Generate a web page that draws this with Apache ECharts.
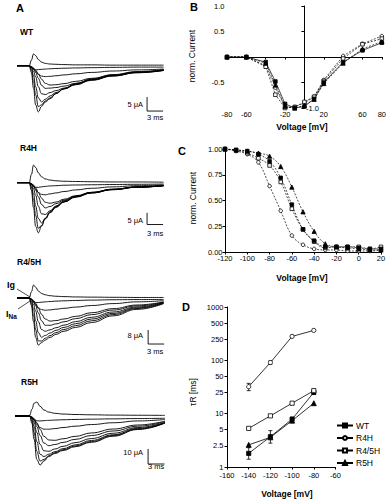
<!DOCTYPE html>
<html><head><meta charset="utf-8">
<script src="https://cdn.jsdelivr.net/npm/echarts@6/dist/echarts.min.js"></script>
<style>html,body{margin:0;padding:0;background:#fff}#c{width:389px;height:499px}</style>
</head><body><div id="c"></div>
<script>
// ---------- DATA ----------
const tMs = [0, 2.3, 2.7, 3.1, 3.5, 4.0, 4.6, 5.3, 6.2, 7.3, 8.8, 11, 14, 18, 22.5, 27.5];
const wtTraces = [
  [0,0, 2.0, 4.2, 3.6, 2.2, 1.3, 0.8, 0.6, 0.5, 0.4, 0.3, 0.3, 0.2, 0.2, 0.2],
  [0,0,-0.5,-1.2,-1.5,-1.4,-1.3,-1.2,-1.1,-1.0,-0.9,-0.8,-0.7,-0.6,-0.5,-0.5],
  [0,0,-0.5,-1.2,-2.0,-3.0,-3.7,-3.9,-3.8,-3.6,-3.3,-2.9,-2.4,-1.9,-1.5,-1.2],
  [0,0,-0.3,-0.8,-1.6,-3.0,-4.8,-6.3,-6.9,-6.8,-6.4,-5.6,-4.5,-3.3,-2.3,-1.6],
  [0,0,-0.4,-1.2,-2.4,-4.5,-7.0,-8.1,-8.0,-7.8,-7.3,-6.3,-5.0,-3.6,-2.5,-1.7],
  [0,0,-0.6,-2.0,-4.0,-7.5,-10.0,-10.3,-9.6,-8.9,-8.0,-6.7,-5.2,-3.7,-2.5,-1.7],
  [0,0,-1.0,-3.5,-7.5,-11.5,-12.9,-12.0,-10.8,-9.6,-8.3,-6.8,-5.1,-3.6,-2.4,-1.6],
  [0,0,-1.5,-5.5,-10.5,-14.6,-14.0,-12.6,-11.5,-9.9,-8.3,-6.6,-4.9,-3.4,-2.3,-1.5],
  [0,0,-2.5,-8.0,-14.0,-16.5,-14.5,-13.0,-11.8,-10.0,-8.2,-6.4,-4.7,-3.2,-2.1,-1.4]
];
const r4hTraces = [
  [0,0, 3.5, 7.5, 6.5, 4.2, 2.5, 1.6, 1.1, 0.8, 0.6, 0.5, 0.4, 0.3, 0.3, 0.2],
  [0,0,-0.6,-1.5,-2.0,-2.0,-1.8,-1.6,-1.4,-1.3,-1.1,-1.0,-0.9,-0.8,-0.7,-0.6],
  [0,0,-0.6,-1.6,-2.8,-4.2,-5.0,-5.2,-4.8,-4.4,-3.8,-3.1,-2.4,-1.8,-1.3,-1.0],
  [0,0,-0.4,-1.0,-2.2,-4.2,-6.6,-8.4,-8.8,-8.3,-7.1,-5.6,-4.1,-2.8,-1.9,-1.3],
  [0,0,-0.5,-1.6,-3.2,-6.0,-9.3,-10.8,-10.2,-9.0,-7.5,-5.8,-4.2,-2.9,-1.9,-1.3],
  [0,0,-0.8,-2.7,-5.4,-10.0,-13.3,-13.6,-12.0,-10.2,-8.2,-6.1,-4.4,-3.0,-2.0,-1.3],
  [0,0,-1.3,-4.7,-10.0,-15.3,-17.2,-15.4,-12.8,-10.6,-8.3,-6.2,-4.4,-3.0,-1.9,-1.3],
  [0,0,-2.0,-7.3,-14.0,-19.5,-18.3,-15.5,-12.8,-10.4,-8.1,-6.0,-4.3,-2.9,-1.9,-1.2],
  [0,0,-3.3,-10.7,-18.7,-21.4,-18.6,-15.2,-12.5,-10.0,-7.8,-5.8,-4.2,-2.8,-1.8,-1.2]
];
const r45hTraces = [
  [0,0, 3.5, 7.4, 6.2, 4.0, 2.6, 1.8, 1.3, 1.0, 0.8, 0.6, 0.5, 0.4, 0.3, 0.3],
  [0,0,-0.8,-2.0,-2.6,-2.6,-2.4,-2.2,-2.0,-1.8,-1.6,-1.4,-1.2,-1.0,-0.9,-0.8],
  [0,0,-0.8,-2.2,-3.8,-5.6,-6.6,-7.0,-6.8,-6.4,-5.9,-5.2,-4.3,-3.2,-2.2,-1.5],
  [0,0,-0.5,-1.4,-3.0,-5.8,-9.3,-12.0,-13.2,-12.9,-12.0,-10.5,-8.4,-6.1,-4.0,-2.2],
  [0,0,-0.7,-2.2,-4.5,-8.5,-13.0,-15.6,-15.6,-14.8,-13.6,-11.8,-9.5,-6.9,-4.5,-2.4],
  [0,0,-1.1,-3.7,-7.5,-13.5,-18.0,-19.0,-18.2,-17.0,-15.5,-13.5,-11.0,-8.0,-5.1,-2.6],
  [0,0,-1.8,-6.3,-13.0,-19.8,-22.4,-21.4,-20.0,-18.5,-16.8,-14.7,-12.0,-8.8,-5.6,-2.8],
  [0,0,-2.8,-9.8,-18.2,-24.5,-24.6,-23.0,-21.5,-19.8,-18.0,-15.8,-13.0,-9.5,-6.0,-3.0],
  [0,0,-4.2,-13.5,-22.5,-26.9,-25.5,-24.0,-22.5,-20.8,-19.0,-16.8,-14.0,-10.2,-6.5,-3.2]
];
const r5hTraces = [
  [0,0, 0.5, 4.5, 8.5, 9.3, 6.5, 4.0, 2.6, 1.8, 1.3, 1.0, 0.8, 0.6, 0.5, 0.4],
  [0,0, 0,-1.0,-2.4,-3.2,-3.3,-3.1,-2.9,-2.7,-2.5,-2.3,-2.1,-1.9,-1.7,-1.5],
  [0,0, 0,-1.0,-2.8,-5.5,-7.8,-8.8,-8.8,-8.4,-7.7,-6.8,-5.7,-4.5,-3.3,-2.3],
  [0,0, 0,-0.6,-1.8,-4.5,-9.0,-13.5,-16.0,-16.2,-15.2,-13.6,-11.3,-8.7,-6.0,-3.4],
  [0,0, 0,-0.9,-2.7,-7.0,-13.0,-18.0,-19.8,-19.0,-17.6,-15.6,-13.0,-10.0,-6.8,-3.8],
  [0,0, 0,-1.4,-4.3,-11.0,-19.0,-23.2,-23.5,-22.0,-20.2,-17.8,-15.0,-11.5,-7.7,-4.2],
  [0,0, 0,-2.2,-7.0,-17.0,-25.5,-27.0,-25.5,-23.8,-21.8,-19.3,-16.3,-12.5,-8.3,-4.5],
  [0,0, 0,-3.3,-11.0,-23.5,-30.0,-29.0,-26.5,-24.5,-22.5,-20.0,-17.0,-13.0,-8.7,-4.6],
  [0,0, 0,-4.8,-15.5,-29.0,-32.7,-30.0,-27.0,-25.0,-23.0,-20.5,-17.5,-13.5,-9.0,-4.7]
];
// scale bars: anchor time (ms), anchor current (µA), bar sizes
const barAmps = [5, 5, 8, 10];      // µA
const barMs = 3;                    // ms
const barAnchorT = [24.4, 24.4, 24.6, 24.4];
const barAnchorI = [-11.2, -12.9, -18.3, -22.0];

// Panel B: I-V
const ivVolt = [-80, -60, -40, -30, -20, -10, 0, 10, 20, 40, 60, 80];
const ivWT   = [0, 0, -0.10, -0.48, -0.92, -1.00, -0.97, -0.82, -0.50, -0.10, 0.13, 0.28];
const ivR4H  = [0, 0, -0.17, -0.60, -0.98, -0.98, -0.90, -0.78, -0.45, 0.02, 0.26, 0.41];
const ivR45H = [0, 0, -0.19, -0.74, -1.00, -0.98, -0.88, -0.78, -0.47, -0.03, 0.25, 0.36];
const ivR5H  = [0, 0, -0.12, -0.55, -0.97, -1.00, -0.95, -0.83, -0.52, -0.12, 0.16, 0.30];

// Panel C: steady-state inactivation
const inVolt  = [-120, -110, -100, -90, -80, -70, -60, -50, -40, -30, -20, -10, 0, 10, 20];
const inWT    = [1.00, 0.99, 0.98, 0.95, 0.88, 0.72, 0.46, 0.22, 0.11, 0.05, 0.05, 0.05, 0.04, 0.03, 0.03];
const inR4H   = [1.00, 0.98, 0.95, 0.87, 0.64, 0.40, 0.16, 0.07, 0.03, 0.02, 0.02, 0.01, 0.01, 0.01, 0.02];
const inR45H  = [1.00, 0.99, 0.96, 0.91, 0.84, 0.68, 0.42, 0.22, 0.10, 0.04, 0.05, 0.05, 0.05, 0.03, 0.05];
const inR5H   = [1.00, 0.99, 0.98, 0.96, 0.93, 0.83, 0.63, 0.39, 0.20, 0.08, 0.05, 0.04, 0.03, 0.02, 0.02];

// Panel D: recovery time constants
const tauVolt  = [-140, -120, -100, -80];
const tauWT    = [1.8, 3.7, 7.9, 25];
const tauR4H   = [32, 91, 281, 364];
const tauR45H  = [5.3, 9.1, 15.7, 27];
const tauR5H   = [2.6, 3.6, 7.4, 15.7];
const tauErrWT  = [[1.4, 2.3], [2.8, 4.8], [7.3, 8.6], [23, 27.5]];
const tauErrR4H = [[27, 37], [84, 98], [268, 296], [348, 382]];
const tauTicks = [1, 2.5, 5, 10, 25, 50, 100, 250, 500, 1000];

// ---------- CHART ----------
const FONT = '"Liberation Sans", Arial, sans-serif';
const chart = echarts.init(document.getElementById('c'), null, {renderer: 'svg'});

const traceGrids = [
  {left: 17, top: 48.9, width: 146.6, height: 67.2, ymin: -18, ymax: 6},
  {left: 17, top: 161.6, width: 146.6, height: 77.2, ymin: -24, ymax: 9},
  {left: 17, top: 280.5, width: 146.6, height: 70, ymin: -30, ymax: 10},
  {left: 15, top: 398, width: 150, height: 72, ymin: -36, ymax: 12}
];
const allTraces = [wtTraces, r4hTraces, r45hTraces, r5hTraces];

const grids = [], xAxes = [], yAxes = [], series = [];
traceGrids.forEach((g, i) => {
  grids.push({left: g.left, top: g.top, width: g.width, height: g.height});
  xAxes.push({type: 'value', gridIndex: i, min: 0, max: 27.5, show: false});
  yAxes.push({type: 'value', gridIndex: i, min: g.ymin, max: g.ymax, show: false});
  allTraces[i].forEach(tr => {
    series.push({type: 'line', xAxisIndex: i, yAxisIndex: i, silent: true,
      data: tMs.map((t, k) => [t, tr[k]]), smooth: 0.45, smoothMonotone: 'x',
      symbol: 'none', lineStyle: {color: '#000', width: 0.9}, z: 2});
  });
  const t0 = barAnchorT[i], i0 = barAnchorI[i];
  series.push({type: 'line', xAxisIndex: i, yAxisIndex: i, silent: true, symbol: 'none',
    data: [[t0, i0], [t0, i0 - barAmps[i]], [t0 + barMs, i0 - barAmps[i]]],
    lineStyle: {color: '#000', width: 0.9}});
});

const axisLine = {show: true, onZero: false, lineStyle: {color: '#000', width: 1}};
const axisTick = {show: true, length: 2.5, lineStyle: {color: '#000', width: 1}};
const axisLabel = {color: '#000', fontSize: 7.5, fontFamily: FONT, margin: 2.5};

// Grid 4: B
grids.push({left: 227, top: 6, width: 155, height: 102});
xAxes.push({type: 'value', gridIndex: 4, min: -80, max: 80, interval: 20,
  axisLine: {show: true, onZero: true, lineStyle: {color: '#000', width: 1}}, axisTick,
  axisLabel: Object.assign({}, axisLabel, {formatter: v => ([-40, 0, 40].includes(v) ? '' : String(v))}),
  splitLine: {show: false}});
yAxes.push({type: 'value', gridIndex: 4, min: -1, max: 1, interval: 0.5,
  axisLine: {show: true, onZero: true, lineStyle: {color: '#000', width: 1}},
  axisTick: {show: true, length: 3, lineStyle: {color: '#000', width: 1}},
  axisLabel: Object.assign({}, axisLabel, {formatter: v => (v === 0 || v === -1 ? '' : v.toFixed(1))}),
  splitLine: {show: false}});
// Grid 5: C
grids.push({left: 225, top: 149, width: 156, height: 103});
xAxes.push({type: 'value', gridIndex: 5, min: -120, max: 20, interval: 20, axisLine, axisTick,
  axisLabel, splitLine: {show: false}});
yAxes.push({type: 'value', gridIndex: 5, min: 0, max: 1, interval: 0.25, axisLine, axisTick,
  axisLabel: Object.assign({}, axisLabel, {formatter: v => v.toFixed(2)}), splitLine: {show: false}});
// Grid 6: D
grids.push({left: 227, top: 307, width: 108.5, height: 160});
xAxes.push({type: 'value', gridIndex: 6, min: -160, max: -60, interval: 20, axisLine, axisTick,
  axisLabel: Object.assign({}, axisLabel, {margin: 4.5}), splitLine: {show: false}});
yAxes.push({type: 'log', gridIndex: 6, min: 1, max: 1000, logBase: 10, axisLine,
  axisTick: Object.assign({}, axisTick, {customValues: tauTicks}),
  axisLabel: Object.assign({}, axisLabel, {margin: 3.5, customValues: tauTicks, formatter: v => String(v)}),
  minorTick: {show: false}, splitLine: {show: false}});

const styles = {
  WT:    {symbol: 'rect', size: 4.2, fill: '#000'},
  R4H:   {symbol: 'circle', size: 4.2, fill: '#fff'},
  'R4/5H': {symbol: 'rect', size: 4.2, fill: '#fff'},
  R5H:   {symbol: 'triangle', size: 5, fill: '#000'}
};
function markSeries(name, xs, ys, gi, opts, scale) {
  const s = styles[name.replace(/^[BC]-/, '')];
  const k = scale || 1;
  return Object.assign({
    type: 'line', name, xAxisIndex: gi, yAxisIndex: gi, silent: true,
    data: xs.map((x, j) => [x, ys[j]]), symbol: s.symbol, symbolSize: s.size * k, showSymbol: true,
    itemStyle: {color: s.fill, borderColor: '#000', borderWidth: 0.8},
    lineStyle: {color: '#000', width: 0.7}, z: 3
  }, opts || {});
}
// B
const dashB = {color: '#000', width: 0.7, type: [2, 1.5]};
series.push(markSeries('B-R4H', ivVolt, ivR4H, 4, {lineStyle: dashB}, 0.85));
series.push(markSeries('B-R4/5H', ivVolt, ivR45H, 4, {lineStyle: dashB}, 0.85));
series.push(markSeries('B-R5H', ivVolt, ivR5H, 4, {lineStyle: dashB}, 0.85));
series.push(markSeries('B-WT', ivVolt, ivWT, 4, null, 0.85));
// C
const dashC = {color: '#000', width: 0.7, type: [2, 1.5]};
series.push(markSeries('C-R4H', inVolt, inR4H, 5, {smooth: 0.4, lineStyle: dashC}, 0.85));
series.push(markSeries('C-R4/5H', inVolt, inR45H, 5, {smooth: 0.4, lineStyle: dashC}, 0.85));
series.push(markSeries('C-R5H', inVolt, inR5H, 5, {smooth: 0.4, lineStyle: dashC}, 0.85));
series.push(markSeries('C-WT', inVolt, inWT, 5, {smooth: 0.4, lineStyle: dashC}, 0.85));
// D
series.push(markSeries('WT', tauVolt, tauWT, 6, {lineStyle: {color: '#000', width: 0.8}}));
series.push(markSeries('R4H', tauVolt, tauR4H, 6, {lineStyle: {color: '#000', width: 0.8}}));
series.push(markSeries('R4/5H', tauVolt, tauR45H, 6, {lineStyle: {color: '#000', width: 0.8}}));
series.push(markSeries('R5H', tauVolt, tauR5H, 6, {lineStyle: {color: '#000', width: 0.8}}));
function errSeries(xs, errs) {
  return {type: 'custom', xAxisIndex: 6, yAxisIndex: 6, silent: true, z: 2,
    data: xs.map((x, k) => [x, errs[k][0], errs[k][1]]),
    encode: {x: 0, y: [1, 2]},
    renderItem: (params, api) => {
      const lo = api.coord([api.value(0), api.value(1)]);
      const hi = api.coord([api.value(0), api.value(2)]);
      const st = {stroke: '#000', lineWidth: 0.8};
      return {type: 'group', children: [
        {type: 'line', shape: {x1: lo[0], y1: lo[1], x2: hi[0], y2: hi[1]}, style: st},
        {type: 'line', shape: {x1: lo[0] - 2, y1: lo[1], x2: lo[0] + 2, y2: lo[1]}, style: st},
        {type: 'line', shape: {x1: hi[0] - 2, y1: hi[1], x2: hi[0] + 2, y2: hi[1]}, style: st}
      ]};
    }};
}
series.push(errSeries(tauVolt, tauErrWT));
series.push(errSeries(tauVolt, tauErrR4H));

function txt(text, x, y, o) {
  o = o || {};
  return {type: 'text', x, y, rotation: o.rot || 0, silent: true,
    style: Object.assign({text, fill: '#000', font: (o.w || 'normal') + ' ' + (o.s || 8) + 'px ' + FONT,
      align: o.a || 'center', verticalAlign: 'middle'}, o.extra || {})};
}
const graphics = [
  txt('A', 20, 8, {w: 'bold', s: 11}), txt('B', 194, 7, {w: 'bold', s: 11}),
  txt('C', 182, 151, {w: 'bold', s: 11}), txt('D', 186, 307, {w: 'bold', s: 11}),
  txt('WT', 20, 32, {w: 'bold', s: 8.5, a: 'left'}),
  txt('R4H', 20, 148, {w: 'bold', s: 8.5, a: 'left'}),
  txt('R4/5H', 17, 262, {w: 'bold', s: 8.5, a: 'left'}),
  txt('R5H', 21, 382, {w: 'bold', s: 8.5, a: 'left'}),
  txt('5 μA', 143, 104, {s: 7.5, a: 'right'}), txt('3 ms', 155, 117, {s: 7.5}),
  txt('5 μA', 143, 220, {s: 7.5, a: 'right'}), txt('3 ms', 155, 233, {s: 7.5}),
  txt('8 μA', 143, 335, {s: 7.5, a: 'right'}), txt('3 ms', 155, 351, {s: 7.5}),
  txt('10 μA', 143, 452, {s: 7.5, a: 'right'}), txt('3 ms', 156, 466, {s: 7.5}),
  txt('Ig', 7, 285, {w: 'bold', s: 9, a: 'left'}),
  {type: 'text', x: 6, y: 314, silent: true, style: {text: '{a|I}{b|Na}', fill: '#000',
    align: 'left', verticalAlign: 'middle',
    rich: {a: {font: 'bold 9px ' + FONT, fill: '#000'}, b: {font: 'bold 6.5px ' + FONT, fill: '#000', padding: [5, 0, 0, 0]}}}},
  {type: 'line', silent: true, shape: {x1: 17, y1: 289, x2: 30, y2: 297}, style: {stroke: '#000', lineWidth: 0.7}},
  {type: 'line', silent: true, shape: {x1: 18, y1: 309, x2: 30, y2: 301}, style: {stroke: '#000', lineWidth: 0.7}},
  txt('norm. Current', 192, 56, {s: 8.5, rot: Math.PI / 2}),
  txt('Voltage [mV]', 302, 127, {w: 'bold', s: 8.5}),
  txt('-1.0', 306, 108, {s: 7.5, a: 'left'}),
  txt('norm. Current', 193, 198, {s: 8.5, rot: Math.PI / 2}),
  txt('Voltage [mV]', 302, 278, {w: 'bold', s: 8.5}),
  txt('τR [ms]', 193, 392, {s: 8.5, rot: Math.PI / 2}),
  txt('Voltage [mV]', 287, 494, {w: 'bold', s: 8.5})
];

chart.setOption({
  animation: false,
  textStyle: {fontFamily: FONT},
  grid: grids, xAxis: xAxes, yAxis: yAxes, series,
  legend: {data: ['WT', 'R4H', 'R4/5H', 'R5H'], orient: 'vertical', left: 336, top: 421,
    itemGap: 3.5, itemWidth: 16, itemHeight: 5, padding: 0, selectedMode: false,
    textStyle: {fontSize: 8.5, color: '#000', fontFamily: FONT, padding: [0, 0, 0, -2]}},
  graphic: graphics
});
</script></body></html>
